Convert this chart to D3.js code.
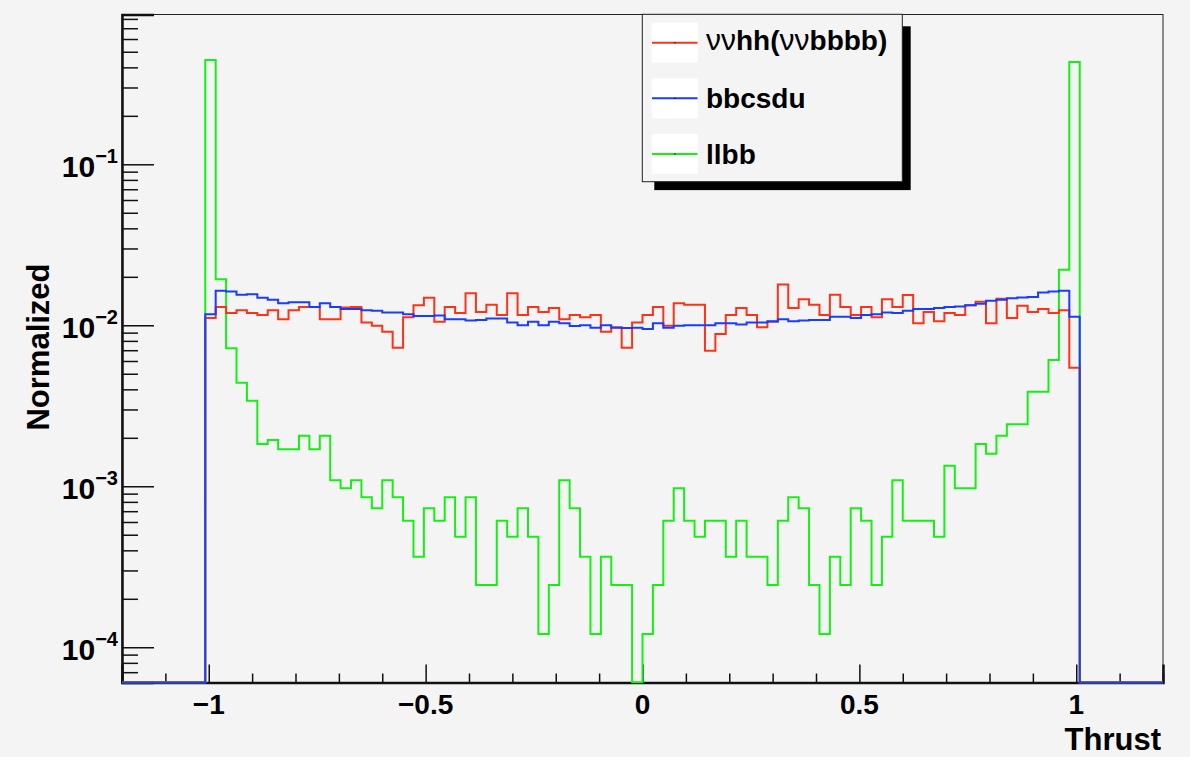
<!DOCTYPE html>
<html>
<head>
<meta charset="utf-8">
<script src="https://cdnjs.cloudflare.com/ajax/libs/d3/7.8.5/d3.min.js"></script>
<style>
    body { margin: 0; background: #f4f4f4; }
    svg { display: block; font-family: "Liberation Sans", Arial, Helvetica, sans-serif; }
</style>
</head>
<body>
<div id="chart"></div>
<script>
// histogram binning: 100 bins from -1.2 to 1.2
var binLow = -1.2;
var binWidth = 0.024;

var nunuhh = [0, 0, 0, 0, 0, 0, 0, 0,
    0.0111, 0.0130, 0.0119, 0.0124, 0.0119, 0.0116, 0.0124, 0.0109, 0.0124, 0.0130,
    0.0130, 0.0109, 0.0109, 0.0129, 0.0130, 0.0104, 0.00994, 0.00912, 0.00726, 0.0112,
    0.0133, 0.0148, 0.0105, 0.0130, 0.0119, 0.0158, 0.0121, 0.0134, 0.0116, 0.0158,
    0.0116, 0.0130, 0.0121, 0.0128, 0.0109, 0.0116, 0.0112, 0.0116, 0.00912, 0.00972,
    0.00726, 0.0104, 0.0116, 0.0130, 0.00994, 0.0137, 0.0134, 0.0134, 0.00695, 0.00883,
    0.0116, 0.0128, 0.0116, 0.00972, 0.0105, 0.0179, 0.0128, 0.0145, 0.0134, 0.0116,
    0.0155, 0.0130, 0.0116, 0.0130, 0.0112, 0.0145, 0.0130, 0.0154, 0.0103, 0.0121,
    0.0106, 0.0119, 0.0116, 0.0133, 0.0140, 0.0103, 0.0146, 0.0111, 0.0132, 0.0121,
    0.0126, 0.0119, 0.0124, 0.00545,
    0, 0, 0, 0, 0, 0, 0, 0];

var bbcsdu = [0, 0, 0, 0, 0, 0, 0, 0,
    0.0117, 0.0164, 0.0162, 0.0155, 0.0156, 0.0148, 0.0144, 0.0137, 0.0139, 0.0139,
    0.0130, 0.0137, 0.0130, 0.0126, 0.0126, 0.0124, 0.0123, 0.0120, 0.0120, 0.0117,
    0.0114, 0.0114, 0.0115, 0.0109, 0.0109, 0.0107, 0.0108, 0.0110, 0.0110, 0.0104,
    0.0100, 0.0105, 0.0100, 0.0105, 0.0103, 0.0099, 0.0100, 0.00966, 0.0100, 0.00966,
    0.00962, 0.00966, 0.00948, 0.0103, 0.00966, 0.00994, 0.0100, 0.0100, 0.0100, 0.0103,
    0.0103, 0.0101, 0.0104, 0.0104, 0.0106, 0.0109, 0.0106, 0.0107, 0.0108, 0.0108,
    0.0113, 0.0113, 0.0111, 0.0116, 0.0117, 0.0120, 0.0119, 0.0123, 0.0126, 0.0126,
    0.0128, 0.0130, 0.0131, 0.0133, 0.0136, 0.0142, 0.0144, 0.0147, 0.0149, 0.0150,
    0.0160, 0.0162, 0.0164, 0.0113,
    0, 0, 0, 0, 0, 0, 0, 0];

var llbb = [0, 0, 0, 0, 0, 0, 0, 0,
    0.444, 0.0193, 0.0072, 0.0044, 0.0034, 0.00183, 0.00194, 0.00170, 0.00170, 0.00206,
    0.00170, 0.00206, 0.00109, 0.000972, 0.00109, 0.000855, 0.00073, 0.00109, 0.000855, 0.000611,
    0.000365, 0.00073, 0.000611, 0.000855, 0.000486, 0.000855, 0.000244, 0.000244, 0.000611, 0.000486,
    0.00073, 0.000486, 0.000121, 0.000244, 0.00109, 0.00073, 0.000365, 0.000121, 0.000365, 0.000244,
    0.000244, 0, 0.000121, 0.000244, 0.000611, 0.000972, 0.000611, 0.000486, 0.000611, 0.000611,
    0.000365, 0.000611, 0.000365, 0.000365, 0.000244, 0.000611, 0.000855, 0.00073, 0.000244, 0.000121,
    0.000365, 0.000244, 0.00073, 0.000611, 0.000244, 0.000486, 0.00109, 0.000611, 0.000611, 0.000611,
    0.000486, 0.00134, 0.000972, 0.000972, 0.00183, 0.00159, 0.00206, 0.00243, 0.00243, 0.00387,
    0.00387, 0.00609, 0.0221, 0.432,
    0, 0, 0, 0, 0, 0, 0, 0];

var xMajorTicks = [-1, -0.5, 0, 0.5, 1];
var xTickLabels = ["\u22121", "\u22120.5", "0", "0.5", "1"];
var yMajorTicks = [1e-4, 1e-3, 1e-2, 1e-1];
var yTickExponents = ["\u22124", "\u22123", "\u22122", "\u22121"];
var legendLabels = ["nunuhh", "bbcsdu", "llbb"];

var W = 1190, H = 757;
var frame = { left: 122, right: 1163, top: 14.5, bottom: 682.5 };
var yMin = 6.04e-5, yMax = 0.852;

var colours = { nunuhh: "#ff3218", bbcsdu: "#1a3cff", llbb: "#14f014" };

var svg = d3.select("#chart").append("svg")
    .attr("width", W)
    .attr("height", H);

svg.append("rect")
    .attr("width", W)
    .attr("height", H)
    .attr("fill", "#f4f4f4");

var x = d3.scaleLinear()
    .domain([-1.2, 1.2])
    .range([frame.left, frame.right]);

var y = d3.scaleLog()
    .domain([yMin, yMax])
    .range([frame.bottom, frame.top]);

svg.append("defs").append("clipPath")
    .attr("id", "clip")
    .append("rect")
    .attr("x", frame.left)
    .attr("y", frame.top - 1)
    .attr("width", frame.right - frame.left)
    .attr("height", frame.bottom - frame.top + 2);

// frame
svg.append("rect")
    .attr("x", frame.left)
    .attr("y", frame.top)
    .attr("width", frame.right - frame.left)
    .attr("height", frame.bottom - frame.top)
    .attr("fill", "none")
    .attr("stroke", "#222")
    .attr("stroke-width", 1);

// y axis: log ticks pointing into the frame
var yMinor = [];
for (var e = -5; e <= 0; e++) {
    for (var m = 2; m <= 9; m++) {
        var v = m * Math.pow(10, e);
        if (v >= yMin && v <= yMax) yMinor.push(v);
    }
}

svg.append("g")
    .attr("transform", "translate(" + frame.left + ",0)")
    .call(d3.axisLeft(y).tickValues(yMinor).tickSize(-16).tickFormat(""))
    .call(function(g) { g.select(".domain").remove(); })
    .selectAll("line").attr("stroke", "#111").attr("stroke-width", 1.5);

svg.append("g")
    .attr("transform", "translate(" + frame.left + ",0)")
    .call(d3.axisLeft(y).tickValues(yMajorTicks).tickSize(-32).tickFormat(""))
    .call(function(g) { g.select(".domain").attr("stroke", "#111").attr("stroke-width", 2.5); })
    .selectAll("line").attr("stroke", "#111").attr("stroke-width", 1.5);

var yLabels = svg.append("g").selectAll("text")
    .data(yMajorTicks)
    .enter().append("text")
    .attr("x", 118)
    .attr("y", function(d) { return y(d) + 13; })
    .attr("text-anchor", "end")
    .attr("font-weight", "bold")
    .attr("fill", "#000");
yLabels.append("tspan")
    .attr("font-size", 30)
    .text("10");
yLabels.append("tspan")
    .attr("font-size", 20)
    .attr("dy", -14)
    .text(function(d, i) { return yTickExponents[i]; });

// x axis
var xMinor = d3.range(-12, 13).map(function(i) { return i / 10; })
    .filter(function(v) { return Math.abs(v * 2 - Math.round(v * 2)) > 1e-6; });

svg.append("g")
    .attr("transform", "translate(0," + frame.bottom + ")")
    .call(d3.axisBottom(x).tickValues(xMinor).tickSize(-9).tickFormat(""))
    .call(function(g) { g.select(".domain").remove(); })
    .selectAll("line").attr("stroke", "#111").attr("stroke-width", 1.5);

svg.append("g")
    .attr("transform", "translate(0," + frame.bottom + ")")
    .call(d3.axisBottom(x).tickValues(xMajorTicks).tickSize(-18).tickFormat(""))
    .call(function(g) { g.select(".domain").attr("stroke", "#111").attr("stroke-width", 2.5); })
    .selectAll("line").attr("stroke", "#111").attr("stroke-width", 1.5);

svg.append("g").selectAll("text")
    .data(xMajorTicks)
    .enter().append("text")
    .attr("x", function(d) { return x(d); })
    .attr("y", 714)
    .attr("text-anchor", "middle")
    .attr("font-size", 28)
    .attr("font-weight", "bold")
    .text(function(d, i) { return xTickLabels[i]; });

// axis titles
svg.append("text")
    .attr("x", 1161)
    .attr("y", 750)
    .attr("text-anchor", "end")
    .attr("font-size", 31)
    .attr("font-weight", "bold")
    .text("Thrust");

svg.append("text")
    .attr("transform", "translate(49,347) rotate(-90)")
    .attr("text-anchor", "middle")
    .attr("font-size", 31)
    .attr("font-weight", "bold")
    .text("Normalized");

// step histograms, empty bins lie on the bottom axis line
var histLine = d3.line().curve(d3.curveStepAfter)
    .x(function(d) { return x(d[0]); })
    .y(function(d) { return y(Math.max(d[1], yMin)); });

function histPoints(values) {
    var pts = values.map(function(v, i) { return [binLow + i * binWidth, v]; });
    pts.push([binLow + values.length * binWidth, values[values.length - 1]]);
    return pts;
}

var data = { nunuhh: nunuhh, bbcsdu: bbcsdu, llbb: llbb };

// draw order: green, red, blue (blue ends up on top)
["llbb", "nunuhh", "bbcsdu"].forEach(function(name) {
    svg.append("path")
        .attr("clip-path", "url(#clip)")
        .attr("fill", "none")
        .attr("stroke", colours[name])
        .attr("stroke-width", 2)
        .attr("d", histLine(histPoints(data[name])));
});

// legend with drop shadow
var leg = { x: 642.3, y: 14.3, w: 260, h: 167.4, shadow: 8.4 };

svg.append("rect")
    .attr("x", leg.x + 12)
    .attr("y", leg.y + 12)
    .attr("width", leg.w - 12 + leg.shadow)
    .attr("height", leg.h - 12 + leg.shadow)
    .attr("fill", "#000");

svg.append("rect")
    .attr("x", leg.x)
    .attr("y", leg.y)
    .attr("width", leg.w)
    .attr("height", leg.h)
    .attr("fill", "#f4f4f4")
    .attr("stroke", "#222")
    .attr("stroke-width", 1);

var rowY = [42.7, 98.3, 154];

var entry = svg.append("g").selectAll("g")
    .data(legendLabels)
    .enter().append("g")
    .attr("transform", function(d, i) { return "translate(0," + rowY[i] + ")"; });

entry.append("rect")
    .attr("x", 651.7)
    .attr("y", -20)
    .attr("width", 46)
    .attr("height", 40)
    .attr("fill", "#fff");

entry.append("line")
    .attr("x1", 652)
    .attr("x2", 697.5)
    .attr("stroke", function(d) { return colours[d]; })
    .attr("stroke-width", 2);

entry.append("rect")
    .attr("x", 674.3)
    .attr("y", -0.6)
    .attr("width", 1.2)
    .attr("height", 1.2)
    .attr("fill", "#000");

var legText = entry.append("text")
    .attr("x", 706)
    .attr("y", function(d, i) { return [7.3, 10, 10.3][i]; })
    .attr("font-size", 28)
    .attr("font-weight", "bold");

legText.each(function(d) {
    var t = d3.select(this);
    if (d == "nunuhh") {
        t.append("tspan").attr("font-weight", "normal").attr("font-size", 30).text("\u03bd\u03bd");
        t.append("tspan").text("hh(");
        t.append("tspan").attr("font-weight", "normal").attr("font-size", 30).text("\u03bd\u03bd");
        t.append("tspan").text("bbbb)");
    } else {
        t.text(d);
    }
});
</script>
</body>
</html>
